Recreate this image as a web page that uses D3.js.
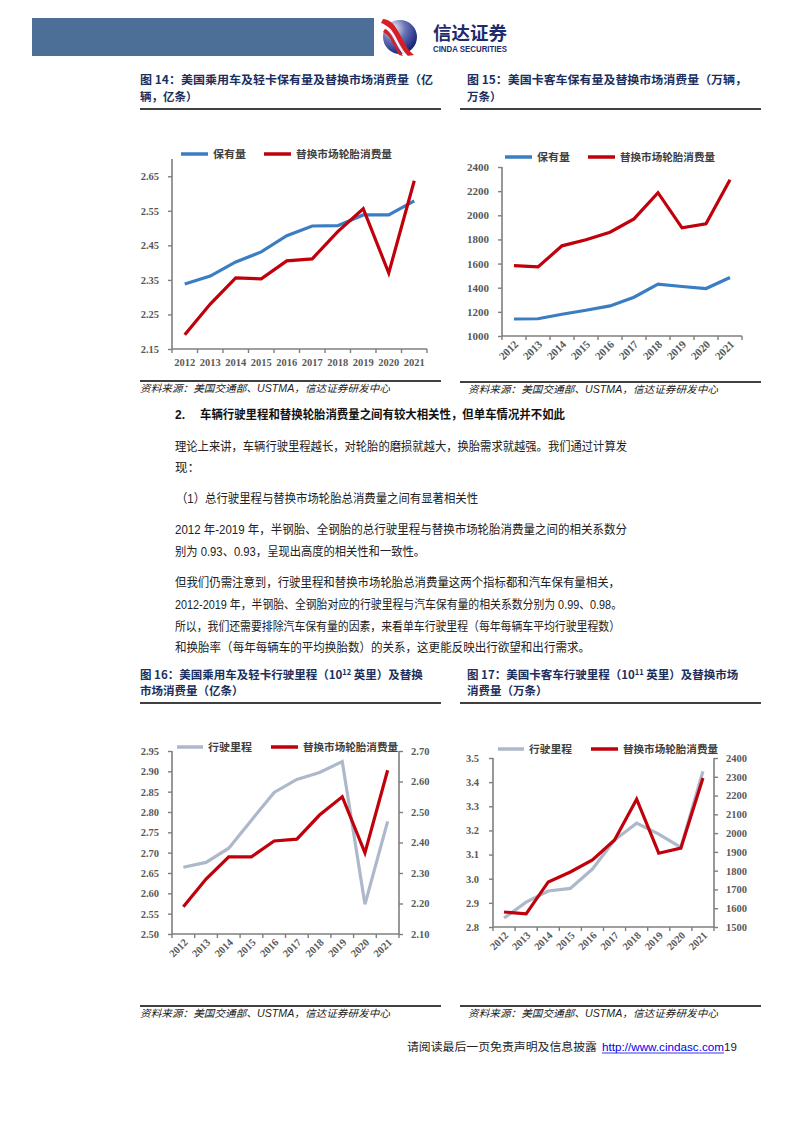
<!DOCTYPE html>
<html><head><meta charset="utf-8">
<script src="https://cdn.jsdelivr.net/npm/d3@7"></script>
<style>
html,body{margin:0;padding:0;background:#fff;}
svg{display:block;}
</style></head>
<body>
<svg id="page" width="794" height="1123"></svg>
<script>
// ---------- DATA ----------
const years = ['2012','2013','2014','2015','2016','2017','2018','2019','2020','2021'];
// Fig 14: passenger car & light truck stock (亿辆) and replacement tyre consumption (亿条)
const fig14Stock   = [2.338, 2.361, 2.402, 2.431, 2.478, 2.506, 2.507, 2.538, 2.538, 2.579];
const fig14Replace = [2.191, 2.280, 2.356, 2.353, 2.405, 2.411, 2.490, 2.556, 2.370, 2.637];
const fig14Ticks   = ['2.15','2.25','2.35','2.45','2.55','2.65'];
// Fig 15: truck & bus stock (万辆) and replacement (万条)
const fig15Stock   = [1141, 1143, 1180, 1213, 1249, 1321, 1429, 1410, 1393, 1484];
const fig15Replace = [1583, 1572, 1747, 1797, 1860, 1970, 2187, 1896, 1929, 2294];
const fig15Ticks   = ['1000','1200','1400','1600','1800','2000','2200','2400'];
// Fig 16: passenger mileage (10^12 miles, left) and replacement (亿条, right)
const fig16Mileage = [2.664, 2.676, 2.711, 2.780, 2.848, 2.880, 2.897, 2.924, 2.573, 2.777];
const fig16Replace = [2.189, 2.280, 2.353, 2.353, 2.405, 2.411, 2.490, 2.550, 2.366, 2.637];
const fig16LeftTicks  = ['2.50','2.55','2.60','2.65','2.70','2.75','2.80','2.85','2.90','2.95'];
const fig16RightTicks = ['2.10','2.20','2.30','2.40','2.50','2.60','2.70'];
// Fig 17: truck mileage (10^11 miles, left) and replacement (万条, right)
const fig17Mileage = [2.837, 2.903, 2.949, 2.960, 3.040, 3.160, 3.230, 3.185, 3.130, 3.445];
const fig17Replace = [1580, 1570, 1740, 1793, 1857, 1963, 2181, 1893, 1920, 2293];
const fig17LeftTicks  = ['2.8','2.9','3.0','3.1','3.2','3.3','3.4','3.5'];
const fig17RightTicks = ['1500','1600','1700','1800','1900','2000','2100','2200','2300','2400'];

const legendStock   = '保有量';
const legendMileage = '行驶里程';
const legendReplace = '替换市场轮胎消费量';
const sourceText = '资料来源：美国交通部、USTMA，信达证券研发中心';

// ---------- STYLE ----------
const C_BLUE = '#3B7DC2', C_RED = '#C0000B', C_GRAY = '#ADB9CA';
const C_TITLE = '#1B2F5E', C_AXIS = '#7F7F7F', C_TICK = '#595959', C_TEXT = '#1E1E1E';
const CJK = '"Noto Sans CJK SC","Noto Sans",sans-serif';
const BODY = '"Liberation Sans","Noto Sans CJK SC",sans-serif';
const SERIF = '"Liberation Serif","Times New Roman",serif';

const svg = d3.select('#page');

// ---------- HEADER ----------
svg.append('rect').attr('x',32).attr('y',18).attr('width',342).attr('height',38).attr('fill','#4B6F96');
const defs = svg.append('defs');
const rg = defs.append('radialGradient').attr('id','logoGrad').attr('cx','30%').attr('cy','25%').attr('r','80%');
rg.append('stop').attr('offset','0%').attr('stop-color','#F2F3FA');
rg.append('stop').attr('offset','45%').attr('stop-color','#6A75B5');
rg.append('stop').attr('offset','100%').attr('stop-color','#15207A');
svg.append('circle').attr('cx',400).attr('cy',37).attr('r',17).attr('fill','url(#logoGrad)');
svg.append('path').attr('d','M383,19 C394,20 398,31 404,42 C407,48 410,52 414,55 L407,56 C403,51 400,45 396,38 C391,29 387,25 381,23 Z').attr('fill','#D81E25');
svg.append('path').attr('d','M386,26 C392,28 395,36 400,45 C403,50 405,53 408,56 L404,56 C401,52 398,47 395,41 C392,34 389,30 384,28 Z').attr('fill','#fff').attr('opacity',0.9);
svg.append('path').attr('d','M385,29 C390,31 393,38 397,46 C399,50 401,53 403,56 L399,55 C397,51 395,47 392,42 C390,37 387,34 383,32 Z').attr('fill','#D81E25');
svg.append('text').attr('x',433).attr('y',40).attr('font-family',CJK).attr('font-weight',700)
  .attr('font-size',18).attr('fill','#1E2C6E').attr('textLength',74).attr('lengthAdjust','spacingAndGlyphs').text('信达证券');
svg.append('text').attr('x',433).attr('y',52).attr('font-family','"Liberation Sans",Arial,sans-serif').attr('font-weight',700)
  .attr('font-size',8.4).attr('fill','#1E2C6E').attr('textLength',74).attr('lengthAdjust','spacingAndGlyphs').text('CINDA SECURITIES');

// ---------- helpers ----------
function txt(x, y, s, o={}) {
  const t = svg.append('text').attr('x',x).attr('y',y)
    .attr('font-family', o.family || CJK).attr('font-size', o.size || 12)
    .attr('font-weight', o.weight || 400).attr('fill', o.fill || C_TEXT)
    .attr('font-style', o.style || 'normal')
    .attr('text-anchor', o.anchor || 'start');
  if (o.end) t.attr('textLength', o.end - x).attr('lengthAdjust','spacingAndGlyphs');
  t.text(s);
  return t;
}

function rule(x0, x1, y) {
  svg.append('line').attr('x1',x0).attr('x2',x1).attr('y1',y).attr('y2',y)
    .attr('stroke','#000').attr('stroke-width',1.3);
}

function source(x0, x1, ruleY) {
  rule(x0, x1, ruleY);
  const off = x0 > 300 ? 8 : 0;
  txt(x0 + off, ruleY + 11, sourceText, {size:10, style:'italic', fill:'#222', family:BODY, end: x0 + off + 250});
}

function legendItem(x0, x1, y, color, label, labelEnd) {
  svg.append('line').attr('x1',x0).attr('x2',x1).attr('y1',y).attr('y2',y)
    .attr('stroke',color).attr('stroke-width',3.5);
  txt(x1 + 5, y + 4, label, {size:10.5, weight:700, fill:'#404040', end: labelEnd});
}

function chart(cfg) {
  const g = svg.append('g');
  const x = d3.scaleBand().domain(years).range([cfg.x0, cfg.x1]).padding(0);
  const cx = d => x(d) + x.bandwidth()/2;
  const yL = d3.scaleLinear().domain(cfg.leftDomain).range([cfg.yB, cfg.yT]);
  const yR = cfg.rightDomain ? d3.scaleLinear().domain(cfg.rightDomain).range([cfg.yB, cfg.yT]) : null;

  const la = g.append('g').attr('transform',`translate(${cfg.x0},0)`)
    .call(d3.axisLeft(yL).tickValues(cfg.leftTicks.map(Number)).tickFormat((d,i)=>cfg.leftTicks[i])
      .tickSize(4).tickSizeOuter(0).tickPadding(cfg.lPad || 9));
  la.select('.domain').attr('d', `M0,${cfg.yT}V${cfg.yB}`);
  if (yR) {
    const ra = g.append('g').attr('transform',`translate(${cfg.x1},0)`)
      .call(d3.axisRight(yR).tickValues(cfg.rightTicks.map(Number)).tickFormat((d,i)=>cfg.rightTicks[i])
        .tickSize(4).tickSizeOuter(0).tickPadding(cfg.rPad || 8));
    ra.select('.domain').attr('d', `M0,${cfg.yT}V${cfg.yB}`);
  }
  g.selectAll('.domain').attr('stroke',C_AXIS).attr('stroke-width',1.6);
  g.selectAll('.tick line').attr('stroke',C_AXIS).attr('stroke-width',1.4);
  g.selectAll('.tick text').attr('font-family',SERIF).attr('font-weight',700)
    .attr('font-size',cfg.tickSize || 10.5).attr('fill',C_TICK);

  g.append('line').attr('x1',cfg.x0).attr('x2',cfg.x1).attr('y1',cfg.yB).attr('y2',cfg.yB)
    .attr('stroke',C_AXIS).attr('stroke-width',1.6);
  const bounds = years.map(d => x(d)).concat([cfg.x1]);
  g.selectAll('.xb').data(bounds).join('line')
    .attr('x1',d=>d).attr('x2',d=>d).attr('y1',cfg.yB).attr('y2',cfg.yB+4)
    .attr('stroke',C_AXIS).attr('stroke-width',1.4);
  const xl = g.selectAll('.xl').data(years).join('text')
    .attr('font-family',SERIF).attr('font-weight',700).attr('font-size',cfg.tickSize || 10.5).attr('fill',C_TICK)
    .text(d=>d);
  if (cfg.rotate) {
    xl.attr('text-anchor','end')
      .attr('transform', d => `translate(${cx(d)+5},${cfg.yB+9}) rotate(-45)`);
  } else {
    xl.attr('text-anchor','middle').attr('x', d=>cx(d)).attr('y', cfg.yB + 17);
  }

  cfg.series.forEach(s => {
    const sc = s.right ? yR : yL;
    const line = d3.line().x((d,i)=>cx(years[i])).y(d=>sc(d));
    g.append('path').attr('d', line(s.values)).attr('fill','none')
      .attr('stroke', s.color).attr('stroke-width', 3.2).attr('stroke-linejoin','miter');
  });
}

function supTitle(x, y, a, sup, b) {
  const t = svg.append('text').attr('x',x).attr('y',y).attr('font-family',CJK).attr('font-size',11.5)
    .attr('font-weight',700).attr('fill',C_TITLE);
  t.append('tspan').text(a);
  t.append('tspan').attr('font-size',7.5).attr('dy',-4).text(sup);
  t.append('tspan').attr('dy',4).text(b);
}

// ---------- FIG 14 ----------
txt(140, 84, '图 14：美国乘用车及轻卡保有量及替换市场消费量（亿', {weight:700, size:11.5, fill:C_TITLE, end:433});
txt(140, 101, '辆，亿条）', {weight:700, size:11.5, fill:C_TITLE});
rule(140, 441, 109);
legendItem(181, 208, 154, C_BLUE, legendStock, 246);
legendItem(264, 291, 154, C_RED, legendReplace, 392);
chart({x0:172, x1:427, yT:159, yB:349, leftDomain:[2.15, 2.70], leftTicks:fig14Ticks, rotate:false, lPad:9,
  series:[{values:fig14Stock, color:C_BLUE},{values:fig14Replace, color:C_RED}]});
source(140, 441, 381);

// ---------- FIG 15 ----------
txt(467, 84, '图 15：美国卡客车保有量及替换市场消费量（万辆，', {weight:700, size:11.5, fill:C_TITLE, end:747});
txt(467, 101, '万条）', {weight:700, size:11.5, fill:C_TITLE});
rule(460, 761, 109);
legendItem(505, 532, 157, C_BLUE, legendStock, 570);
legendItem(588, 615, 157, C_RED, legendReplace, 715);
chart({x0:502, x1:742, yT:167, yB:336, leftDomain:[1000, 2400], leftTicks:fig15Ticks, rotate:true, lPad:9, tickSize:11,
  series:[{values:fig15Stock, color:C_BLUE},{values:fig15Replace, color:C_RED}]});
source(460, 761, 382);

// ---------- BODY TEXT ----------
txt(175, 419, '2.', {weight:700, size:12, family:'"Liberation Sans",Arial,sans-serif', fill:'#111'});
txt(200, 419, '车辆行驶里程和替换轮胎消费量之间有较大相关性，但单车情况并不如此', {weight:700, size:12, fill:'#111', end:565});
const para = [
  {x:175, y:451, s:'理论上来讲，车辆行驶里程越长，对轮胎的磨损就越大，换胎需求就越强。我们通过计算发', end:627},
  {x:175, y:472, s:'现：'},
  {x:176, y:503, s:'（1）总行驶里程与替换市场轮胎总消费量之间有显著相关性', end:478},
  {x:175, y:534, s:'2012 年-2019 年，半钢胎、全钢胎的总行驶里程与替换市场轮胎消费量之间的相关系数分', end:627},
  {x:175, y:556, s:'别为 0.93、0.93，呈现出高度的相关性和一致性。', end:425},
  {x:175, y:587, s:'但我们仍需注意到，行驶里程和替换市场轮胎总消费量这两个指标都和汽车保有量相关，', end:620},
  {x:175, y:609, s:'2012-2019 年，半钢胎、全钢胎对应的行驶里程与汽车保有量的相关系数分别为 0.99、0.98。', end:622},
  {x:175, y:631, s:'所以，我们还需要排除汽车保有量的因素，来看单车行驶里程（每年每辆车平均行驶里程数）', end:620},
  {x:175, y:652, s:'和换胎率（每年每辆车的平均换胎数）的关系，这更能反映出行欲望和出行需求。', end:590}
];
para.forEach(p => txt(p.x, p.y, p.s, {size:12.5, fill:'#222', family:BODY, end:p.end}));

// ---------- FIG 16 ----------
supTitle(140, 679, '图 16：美国乘用车及轻卡行驶里程（10', '12', ' 英里）及替换');
txt(140, 695, '市场消费量（亿条）', {weight:700, size:11.5, fill:C_TITLE});
rule(140, 441, 703);
legendItem(177, 203, 747, C_GRAY, legendMileage, 252);
legendItem(271, 298, 747, C_RED, legendReplace, 398);
chart({x0:172, x1:399, yT:751, yB:934, leftDomain:[2.50, 2.95], leftTicks:fig16LeftTicks,
  rightDomain:[2.10, 2.70], rightTicks:fig16RightTicks, rotate:true, lPad:9, rPad:8,
  series:[{values:fig16Mileage, color:C_GRAY},{values:fig16Replace, color:C_RED, right:true}]});
source(140, 441, 1006);

// ---------- FIG 17 ----------
supTitle(467, 679, '图 17：美国卡客车行驶里程（10', '11', ' 英里）及替换市场');
txt(467, 695, '消费量（万条）', {weight:700, size:11.5, fill:C_TITLE});
rule(460, 761, 703);
legendItem(498, 524, 749, C_GRAY, legendMileage, 572);
legendItem(591, 618, 749, C_RED, legendReplace, 718);
chart({x0:493, x1:714, yT:758, yB:927, leftDomain:[2.8, 3.5], leftTicks:fig17LeftTicks,
  rightDomain:[1500, 2400], rightTicks:fig17RightTicks, rotate:true, lPad:10, rPad:8, tickSize:10.5,
  series:[{values:fig17Mileage, color:C_GRAY},{values:fig17Replace, color:C_RED, right:true}]});
source(460, 761, 1006);

// ---------- FOOTER ----------
txt(407, 1051, '请阅读最后一页免责声明及信息披露', {size:11, fill:'#222', end:597});
txt(602, 1051, 'http://www.cindasc.com', {size:11.5, family:'"Liberation Sans",Arial,sans-serif', fill:'#0000EE', end:724});
svg.append('line').attr('x1',602).attr('x2',724).attr('y1',1053).attr('y2',1053).attr('stroke','#0000EE').attr('stroke-width',0.8);
txt(724, 1051, '19', {size:11.5, family:'"Liberation Sans",Arial,sans-serif', fill:'#222'});
</script>
</body></html>
